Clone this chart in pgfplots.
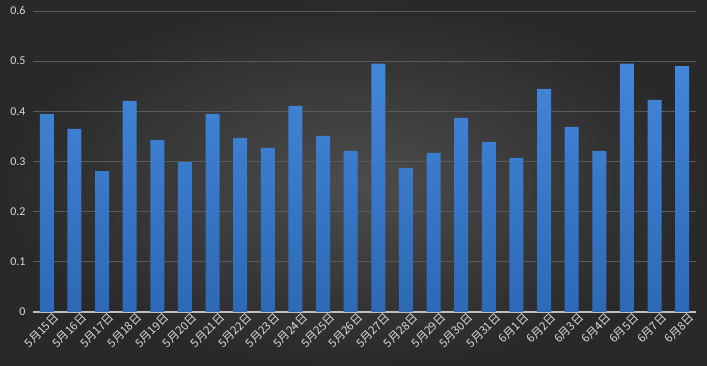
\documentclass[border=0pt]{standalone}
\usepackage{pgfplots}
\pgfplotsset{compat=1.18}
\usepackage{fontspec}
\setmainfont{Carlito}
\newfontfamily\cjk{Noto Sans CJK SC}
\definecolor{txt}{HTML}{D9D9D9}
\definecolor{gridc}{HTML}{5A5A5A}
\definecolor{barTop}{HTML}{4287DA}
\definecolor{barBot}{HTML}{2D69B6}
\begin{document}
\begin{tikzpicture}
\shade[inner color=black!70!white, outer color=black!84!white] (0,0) rectangle (707bp,366bp);
\begin{axis}[
  at={(33bp,54bp)}, anchor=south west,
  scale only axis, width=663bp, height=301bp,
  xmin=-0.5, xmax=23.5, ymin=0, ymax=0.6,
  xtick={0,...,23},
  xticklabels={5月15日,5月16日,5月17日,5月18日,5月19日,5月20日,5月21日,5月22日,5月23日,5月24日,5月25日,5月26日,5月27日,5月28日,5月29日,5月30日,5月31日,6月1日,6月2日,6月3日,6月4日,6月5日,6月7日,6月8日},
  xticklabel style={font=\cjk\fontsize{11.5}{12}\selectfont, text=txt, rotate=45, anchor=north east, inner sep=0.5pt, xshift=5bp, yshift=-4bp},
  ytick={0,0.1,...,0.6},
  yticklabel style={font=\fontsize{12}{13}\selectfont, text=txt, /pgf/number format/fixed, /pgf/number format/precision=1, /pgf/number format/assume math mode=true, xshift=-4bp},
  ymajorgrids, grid style={gridc, line width=0.9bp},
  extra y ticks={0}, extra y tick labels={},
  extra y tick style={grid style={color=black!25!white, line width=1.1bp}},
  major tick length=0pt,
  axis line style={draw=none},
  ybar, bar width=14bp,
]
\addplot[draw=none, top color=barTop, bottom color=barBot] table[x=i, y=v] {
i v
0 0.395
1 0.365
2 0.281
3 0.421
4 0.343
5 0.299
6 0.395
7 0.347
8 0.327
9 0.411
10 0.351
11 0.321
12 0.495
13 0.287
14 0.317
15 0.387
16 0.339
17 0.307
18 0.445
19 0.369
20 0.321
21 0.495
22 0.423
23 0.490
};
\end{axis}
\end{tikzpicture}
\end{document}
